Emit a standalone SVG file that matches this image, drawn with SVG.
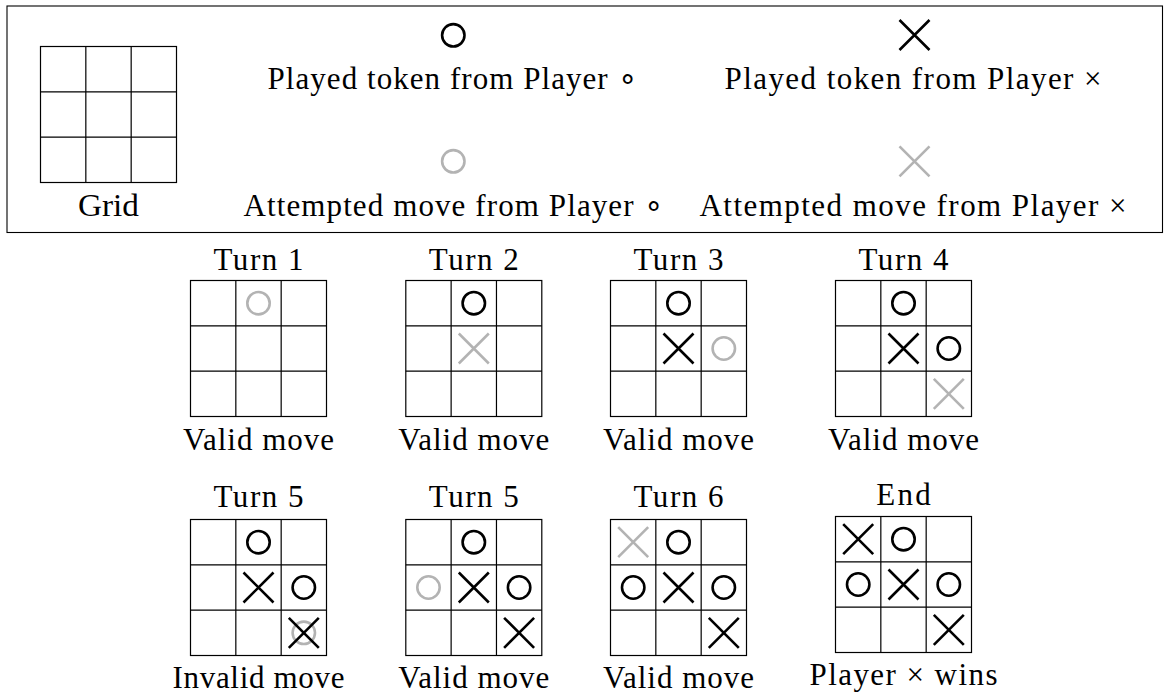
<svg xmlns="http://www.w3.org/2000/svg" xmlns:xlink="http://www.w3.org/1999/xlink" width="1164" height="693" viewBox="0 0 1164 693">
  <style>
    .lbl { font-family: "Liberation Serif", "Times New Roman", serif; font-size: 31px; fill: #000; text-anchor: middle; }
    .gridline { fill: none; stroke: #000; stroke-width: 1.2; }
    .frame { fill: none; stroke: #000; stroke-width: 1.1; }
    .played { color: #000; }
    .attempt { color: #b3b3b3; }
  </style>
  <defs>
    <!-- 3x3 board, 136 px square -->
    <g id="board">
      <rect class="gridline" x="0" y="0" width="136" height="136"/>
      <path class="gridline" d="M45.33 0V136M90.67 0V136M0 45.33H136M0 90.67H136"/>
    </g>
    <!-- tokens, coloured through currentColor -->
    <circle id="tok-o" cx="0" cy="0" r="11.2" fill="none" stroke="currentColor" stroke-width="2.6"/>
    <path id="tok-x" d="M-15 -15L15 15M-15 15L15 -15" fill="none" stroke="currentColor" stroke-width="2.6"/>
  </defs>

  <!-- legend -->
  <g id="legend">
    <rect class="frame" x="7" y="6" width="1155.5" height="226.5"/>
    <g id="legend-grid">
      <use xlink:href="#board" x="40.5" y="46.5"/>
      <text class="lbl" x="108.5" y="216" textLength="61" lengthAdjust="spacingAndGlyphs">Grid</text>
    </g>
    <g id="legend-played-o">
      <use xlink:href="#tok-o" class="played" x="453.3" y="35.3"/>
      <text class="lbl" x="452" y="89.3" textLength="369">Played token from Player ∘</text>
    </g>
    <g id="legend-played-x">
      <use xlink:href="#tok-x" class="played" x="914.5" y="35"/>
      <text class="lbl" x="913" y="89.3" textLength="377">Played token from Player ×</text>
    </g>
    <g id="legend-attempt-o">
      <use xlink:href="#tok-o" class="attempt" x="453.3" y="161.3"/>
      <text class="lbl" x="453" y="216" textLength="419">Attempted move from Player ∘</text>
    </g>
    <g id="legend-attempt-x">
      <use xlink:href="#tok-x" class="attempt" x="914.5" y="161.3"/>
      <text class="lbl" x="913" y="216" textLength="427">Attempted move from Player ×</text>
    </g>
  </g>

  <!-- turn 1 -->
  <g id="turn1">
    <text class="lbl" x="258.5" y="269.5" textLength="90">Turn 1</text>
    <use xlink:href="#board" x="190.5" y="280.5"/>
    <use xlink:href="#tok-o" class="attempt" x="258.5" y="303.2"/>
    <text class="lbl" x="258.5" y="450" textLength="151">Valid move</text>
  </g>

  <!-- turn 2 -->
  <g id="turn2">
    <text class="lbl" x="473.8" y="269.5" textLength="90">Turn 2</text>
    <use xlink:href="#board" x="405.8" y="280.5"/>
    <use xlink:href="#tok-o" class="played" x="473.8" y="303.2"/>
    <use xlink:href="#tok-x" class="attempt" x="473.8" y="348.5"/>
    <text class="lbl" x="473.8" y="450" textLength="151">Valid move</text>
  </g>

  <!-- turn 3 -->
  <g id="turn3">
    <text class="lbl" x="678.5" y="269.5" textLength="90">Turn 3</text>
    <use xlink:href="#board" x="610.5" y="280.5"/>
    <use xlink:href="#tok-o" class="played" x="678.5" y="303.2"/>
    <use xlink:href="#tok-x" class="played" x="678.5" y="348.5"/>
    <use xlink:href="#tok-o" class="attempt" x="723.8" y="348.5"/>
    <text class="lbl" x="678.5" y="450" textLength="151">Valid move</text>
  </g>

  <!-- turn 4 -->
  <g id="turn4">
    <text class="lbl" x="903.5" y="269.5" textLength="90">Turn 4</text>
    <use xlink:href="#board" x="835.5" y="280.5"/>
    <use xlink:href="#tok-o" class="played" x="903.5" y="303.2"/>
    <use xlink:href="#tok-x" class="played" x="903.5" y="348.5"/>
    <use xlink:href="#tok-o" class="played" x="948.8" y="348.5"/>
    <use xlink:href="#tok-x" class="attempt" x="948.8" y="393.8"/>
    <text class="lbl" x="903.5" y="450" textLength="151">Valid move</text>
  </g>

  <!-- turn 5, rejected attempt on an occupied cell -->
  <g id="turn5-invalid">
    <text class="lbl" x="258.5" y="507" textLength="90">Turn 5</text>
    <use xlink:href="#board" x="190.5" y="519.5"/>
    <use xlink:href="#tok-o" class="played" x="258.5" y="542.2"/>
    <use xlink:href="#tok-x" class="played" x="258.5" y="587.5"/>
    <use xlink:href="#tok-o" class="played" x="303.8" y="587.5"/>
    <use xlink:href="#tok-o" class="attempt" x="303.8" y="632.8"/>
    <use xlink:href="#tok-x" class="played" x="303.8" y="632.8"/>
    <text class="lbl" x="258.5" y="688" textLength="172">Invalid move</text>
  </g>

  <!-- turn 5, retried -->
  <g id="turn5-valid">
    <text class="lbl" x="473.8" y="507" textLength="90">Turn 5</text>
    <use xlink:href="#board" x="405.8" y="519.5"/>
    <use xlink:href="#tok-o" class="played" x="473.8" y="542.2"/>
    <use xlink:href="#tok-o" class="attempt" x="428.5" y="587.5"/>
    <use xlink:href="#tok-x" class="played" x="473.8" y="587.5"/>
    <use xlink:href="#tok-o" class="played" x="519.1" y="587.5"/>
    <use xlink:href="#tok-x" class="played" x="519.1" y="632.8"/>
    <text class="lbl" x="473.8" y="688" textLength="151">Valid move</text>
  </g>

  <!-- turn 6 -->
  <g id="turn6">
    <text class="lbl" x="678.5" y="507" textLength="90">Turn 6</text>
    <use xlink:href="#board" x="610.5" y="519.5"/>
    <use xlink:href="#tok-x" class="attempt" x="633.2" y="542.2"/>
    <use xlink:href="#tok-o" class="played" x="678.5" y="542.2"/>
    <use xlink:href="#tok-o" class="played" x="633.2" y="587.5"/>
    <use xlink:href="#tok-x" class="played" x="678.5" y="587.5"/>
    <use xlink:href="#tok-o" class="played" x="723.8" y="587.5"/>
    <use xlink:href="#tok-x" class="played" x="723.8" y="632.8"/>
    <text class="lbl" x="678.5" y="688" textLength="151">Valid move</text>
  </g>

  <!-- final position -->
  <g id="end">
    <text class="lbl" x="903.5" y="505" textLength="54.5">End</text>
    <use xlink:href="#board" x="835.5" y="516.5"/>
    <use xlink:href="#tok-x" class="played" x="858.2" y="539.2"/>
    <use xlink:href="#tok-o" class="played" x="903.5" y="539.2"/>
    <use xlink:href="#tok-o" class="played" x="858.2" y="584.5"/>
    <use xlink:href="#tok-x" class="played" x="903.5" y="584.5"/>
    <use xlink:href="#tok-o" class="played" x="948.8" y="584.5"/>
    <use xlink:href="#tok-x" class="played" x="948.8" y="629.8"/>
    <text class="lbl" x="903.5" y="685" textLength="188">Player × wins</text>
  </g>

  <!-- no connectors in this figure -->
  <g id="connectors"/>
</svg>
